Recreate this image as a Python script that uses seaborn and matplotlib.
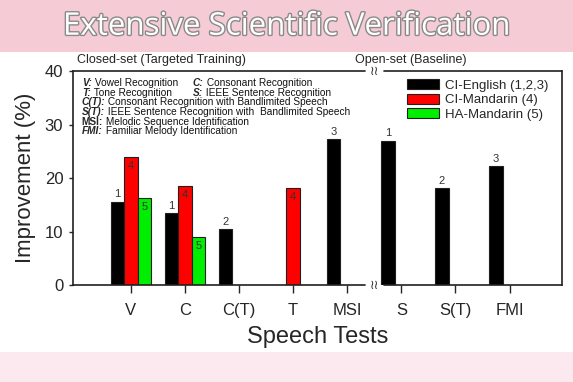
import matplotlib

matplotlib.use("Agg")
import matplotlib.patheffects as pe
import matplotlib.pyplot as plt
import pandas as pd
import seaborn as sns
from matplotlib.patches import Rectangle


TESTS = ["V", "C", "C(T)", "T", "MSI", "S", "S(T)", "FMI"]
GROUPS = ["CI-English (1,2,3)", "CI-Mandarin (4)", "HA-Mandarin (5)"]
COLORS = ["#000000", "#ff0000", "#00ee00"]

BAR_TEST = ["V", "V", "V", "C", "C", "C", "C(T)", "T", "MSI", "S", "S(T)", "FMI"]
BAR_GROUP = [GROUPS[i] for i in [0, 1, 2, 0, 1, 2, 0, 1, 0, 0, 0, 0]]
BAR_VALUE = [15.6, 23.9, 16.2, 13.5, 18.5, 8.9, 10.4, 18.1, 27.2, 27.0, 18.2, 22.2]
BAR_REF = ["1", "4", "5", "1", "4", "5", "2", "4", "3", "1", "2", "3"]

YTICKS = [0, 10, 20, 30, 40]

# (abbreviation, rest, bold-only?) per line, second column optional
NOTES = [
    [("V:", " Vowel Recognition", False), ("C:", " Consonant Recognition", False)],
    [("T:", " Tone Recognition", False), ("S:", " IEEE Sentence Recognition", False)],
    [("C(T):", " Consonant Recognition with Bandlimited Speech", False)],
    [("S(T):", " IEEE Sentence Recognition with  Bandlimited Speech", False)],
    [("MSI:", " Melodic Sequence Identification", True)],
    [("FMI:", " Familiar Melody Identification", False)],
]


def main() -> None:
    sns.set_style("white")
    plt.rcParams["font.family"] = ["Liberation Sans", "DejaVu Sans"]

    df = pd.DataFrame({"test": BAR_TEST, "group": BAR_GROUP, "value": BAR_VALUE, "ref": BAR_REF})

    fig = plt.figure(figsize=(5.73, 3.82), dpi=100)
    fig.patches.append(Rectangle((0, 0.864), 1, 0.136, transform=fig.transFigure,
                                 facecolor="#f5cbd6", edgecolor="none", zorder=0))
    fig.patches.append(Rectangle((0, 0), 1, 0.079, transform=fig.transFigure,
                                 facecolor="#fce9ef", edgecolor="none", zorder=0))
    fig.text(0.5, 0.93, "Extensive Scientific Verification", ha="center", va="center",
             fontsize=22.5, color="white", family=["Open Sans", "DejaVu Sans"],
             path_effects=[pe.withStroke(linewidth=2, foreground="#8a8a8a")])

    ax = fig.add_axes([0.1274, 0.2539, 0.8534, 0.5602])
    sns.barplot(data=df, x="test", y="value", hue="group", order=TESTS, hue_order=GROUPS,
                palette=COLORS, saturation=1, width=0.75, errorbar=None,
                edgecolor="#202020", linewidth=0.8, ax=ax)

    for i, cont in enumerate(ax.containers):
        sub = df[df["group"] == GROUPS[i]].copy()
        sub["pos"] = sub["test"].map(TESTS.index)
        labels = sub.sort_values("pos")["ref"].tolist()
        if i == 0:
            ax.bar_label(cont, labels=labels, padding=1.5, fontsize=8, color="#333333")
        else:
            ax.bar_label(cont, labels=labels, padding=-10, fontsize=8, color="#333333")

    ax.set_xlim(-1.07, 7.97)
    ax.set_ylim(0, 40)
    ax.set_yticks(YTICKS)
    ax.tick_params(axis="y", length=3, width=1, direction="out", labelsize=12, pad=4, left=True)
    ax.tick_params(axis="x", length=6, width=1, direction="out", labelsize=12, pad=7, bottom=True)
    ax.set_xlabel("Speech Tests", fontsize=17, labelpad=6)
    ax.set_ylabel("Improvement (%)", fontsize=16, labelpad=6)

    # frame with axis break between closed and open sets
    for side in ["top", "bottom"]:
        ax.spines[side].set_visible(False)
    for side in ["left", "right"]:
        ax.spines[side].set_color("#202020")
        ax.spines[side].set_linewidth(1.2)
    brk = (4.5 - ax.get_xlim()[0]) / (ax.get_xlim()[1] - ax.get_xlim()[0])
    for yv in [0, 40]:
        ax.axhline(yv, xmax=brk - 0.02, color="#202020", lw=1.2, clip_on=False, zorder=5)
        ax.axhline(yv, xmin=brk + 0.02, color="#202020", lw=1.2, clip_on=False, zorder=5)
        ax.text(brk, yv / 40, "\u2240\u2240", transform=ax.transAxes, ha="center",
                va="center", fontsize=9, color="#303030", family="DejaVu Sans", zorder=6)

    fig.text(0.281, 0.843, "Closed-set (Targeted Training)", ha="center", va="center", fontsize=9)
    fig.text(0.717, 0.843, "Open-set (Baseline)", ha="center", va="center", fontsize=9)

    # abbreviation notes
    y0 = 0.93
    for row, items in enumerate(NOTES):
        for col, (abbr, rest, plain) in enumerate(items):
            x = 0.018 if col == 0 else 0.245
            t = ax.text(x, y0 - row * 0.0453, abbr, transform=ax.transAxes, fontsize=7.3,
                        fontweight="bold", fontstyle="normal" if plain else "italic",
                        va="baseline", ha="left")
            ax.annotate(rest, xy=(1, 0), xycoords=t, va="bottom", ha="left",
                        fontsize=7.3, color="#111111")

    handles, labels = ax.get_legend_handles_labels()
    ax.legend(handles, labels, loc="upper left", bbox_to_anchor=(0.683, 0.962), frameon=False,
              fontsize=9.5, handlelength=2.4, handleheight=0.8, handletextpad=0.5,
              labelspacing=0.15, borderpad=0, borderaxespad=0)

    fig.savefig("out.png", dpi=100)
    plt.close(fig)


if __name__ == "__main__":
    main()
